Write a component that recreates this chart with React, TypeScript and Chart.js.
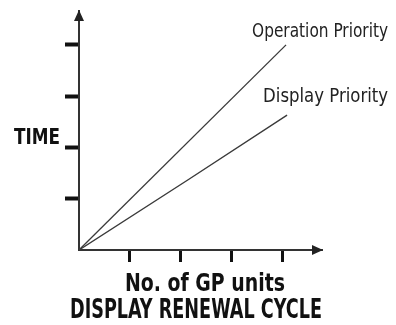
import React, { useEffect, useRef } from "react";
import { Chart, registerables } from "chart.js";

Chart.register(...registerables);

// ---- data ----
const xTickValues = [1, 2, 3, 4];
const yTickValues = [1, 2, 3, 4];
const seriesNames = ["Operation Priority", "Display Priority"];
const operationX = [0, 4.06];
const operationY = [0, 4.0];
const displayX = [0, 2.14, 4.08];
const displayY = [0, 1.37, 2.63];
const yAxisTitle = "TIME";
const xAxisTitleLines = ["No. of GP units", "DISPLAY RENEWAL CYCLE"];

const X_MAX = 4.765;
const Y_MAX = 4.66;

const NARROW = "'Liberation Sans Narrow', 'DejaVu Sans Condensed', 'Arial Narrow', sans-serif";

function fitText(
  ctx: CanvasRenderingContext2D,
  text: string,
  left: number,
  right: number,
  baseline: number,
  font: string,
  color: string
) {
  ctx.save();
  ctx.font = font;
  ctx.fillStyle = color;
  ctx.textBaseline = "alphabetic";
  ctx.textAlign = "left";
  const w = ctx.measureText(text).width;
  const target = right - left;
  ctx.translate(left, baseline);
  ctx.scale(target / w, 1);
  ctx.fillText(text, 0, 0);
  ctx.restore();
}

const decorPlugin = {
  id: "decor",
  afterDraw(chart: any) {
    const ctx: CanvasRenderingContext2D = chart.ctx;
    const a = chart.chartArea;
    ctx.save();
    ctx.fillStyle = "#222";
    // y arrow
    ctx.beginPath();
    ctx.moveTo(a.left, a.top - 1);
    ctx.lineTo(a.left - 5, a.top + 10);
    ctx.lineTo(a.left + 5, a.top + 10);
    ctx.closePath();
    ctx.fill();
    // x arrow
    ctx.beginPath();
    ctx.moveTo(a.right + 1, a.bottom);
    ctx.lineTo(a.right - 10, a.bottom - 5);
    ctx.lineTo(a.right - 10, a.bottom + 5);
    ctx.closePath();
    ctx.fill();
    ctx.restore();

    // axis titles
    fitText(ctx, yAxisTitle, 14, 60, 144, `bold 22px ${NARROW}`, "#111");
    fitText(ctx, xAxisTitleLines[0], 125, 285, 291, `bold 24px ${NARROW}`, "#111");
    fitText(ctx, xAxisTitleLines[1], 70, 322, 318, `bold 26px ${NARROW}`, "#111");

    // series labels near line ends
    const offsets = [
      { dx: -34, w: 136, dy: -8 },
      { dx: -24, w: 125, dy: -13 },
    ];
    chart.data.datasets.forEach((ds: any, i: number) => {
      const meta = chart.getDatasetMeta(i);
      const last = meta.data[meta.data.length - 1];
      const o = offsets[i];
      const left = last.x + o.dx;
      fitText(ctx, seriesNames[i], left, left + o.w, last.y + o.dy, `19px ${NARROW}`, "#222");
    });
  },
};

export default function App() {
  const ref = useRef<HTMLCanvasElement | null>(null);
  useEffect(() => {
    if (!ref.current) return;
    const chart = new Chart(ref.current, {
      type: "line",
      data: {
        datasets: [
          {
            label: seriesNames[0],
            data: operationX.map((x, i) => ({ x, y: operationY[i] })),
            borderColor: "#3a3a3a",
            borderWidth: 1.3,
            pointRadius: 0,
            tension: 0,
          },
          {
            label: seriesNames[1],
            data: displayX.map((x, i) => ({ x, y: displayY[i] })),
            borderColor: "#3a3a3a",
            borderWidth: 1.4,
            pointRadius: 0,
            tension: 0,
          },
        ],
      },
      options: {
        animation: false,
        responsive: true,
        maintainAspectRatio: false,
        events: [],
        layout: { padding: { top: 11, right: 74, left: 0, bottom: 0 } },
        plugins: { legend: { display: false }, tooltip: { enabled: false } },
        scales: {
          x: {
            type: "linear",
            min: 0,
            max: X_MAX,
            afterBuildTicks: (s: any) => {
              s.ticks = xTickValues.map((v) => ({ value: v }));
            },
            afterFit: (s: any) => {
              s.height = 75;
            },
            ticks: { display: false },
            grid: {
              display: true,
              drawOnChartArea: false,
              drawTicks: true,
              tickLength: 12,
              tickWidth: 3,
              tickColor: "#111",
            },
            border: { display: true, color: "#333", width: 2 },
          },
          y: {
            type: "linear",
            min: 0,
            max: Y_MAX,
            afterBuildTicks: (s: any) => {
              s.ticks = yTickValues.map((v) => ({ value: v }));
            },
            afterFit: (s: any) => {
              s.width = 79;
            },
            ticks: { display: false },
            grid: {
              display: true,
              drawOnChartArea: false,
              drawTicks: true,
              tickLength: 14,
              tickWidth: 4,
              tickColor: "#111",
            },
            border: { display: true, color: "#333", width: 2 },
          },
        },
      },
      plugins: [decorPlugin],
    } as any);
    return () => chart.destroy();
  }, []);
  return (
    <div style={{ position: "fixed", left: 0, top: 0, width: 396, height: 325, background: "#fff" }}>
      <canvas ref={ref} />
    </div>
  );
}
